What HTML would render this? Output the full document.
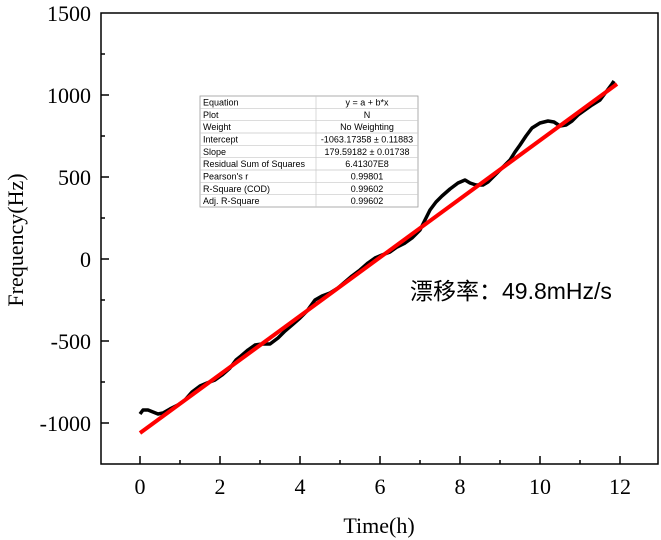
<!DOCTYPE html>
<html><head><meta charset="utf-8"><style>
html,body{margin:0;padding:0;background:#fff;}
svg{display:block;}
</style></head><body>
<svg width="661" height="540" viewBox="0 0 661 540" xmlns="http://www.w3.org/2000/svg">
<rect width="661" height="540" fill="#fff"/>
<rect x="101" y="13" width="557" height="451" fill="none" stroke="#000" stroke-width="1.5"/>
<g stroke="#000" stroke-width="1.5">
<line x1="101" y1="95" x2="109" y2="95"/><line x1="101" y1="177" x2="109" y2="177"/>
<line x1="101" y1="259" x2="109" y2="259"/><line x1="101" y1="341" x2="109" y2="341"/>
<line x1="101" y1="423" x2="109" y2="423"/>
<line x1="101" y1="54" x2="105" y2="54"/><line x1="101" y1="136" x2="105" y2="136"/>
<line x1="101" y1="218" x2="105" y2="218"/><line x1="101" y1="300" x2="105" y2="300"/>
<line x1="101" y1="382" x2="105" y2="382"/>
<line x1="140" y1="464" x2="140" y2="456"/><line x1="220" y1="464" x2="220" y2="456"/>
<line x1="300" y1="464" x2="300" y2="456"/><line x1="380" y1="464" x2="380" y2="456"/>
<line x1="460" y1="464" x2="460" y2="456"/><line x1="540" y1="464" x2="540" y2="456"/>
<line x1="620" y1="464" x2="620" y2="456"/>
<line x1="180" y1="464" x2="180" y2="460"/><line x1="260" y1="464" x2="260" y2="460"/>
<line x1="340" y1="464" x2="340" y2="460"/><line x1="420" y1="464" x2="420" y2="460"/>
<line x1="500" y1="464" x2="500" y2="460"/><line x1="580" y1="464" x2="580" y2="460"/>
</g>
<g font-family="Liberation Serif, serif" font-size="22" fill="#000" text-anchor="end">
<text x="91" y="21">1500</text><text x="91" y="103">1000</text>
<text x="91" y="185">500</text><text x="91" y="267">0</text>
<text x="91" y="349">-500</text><text x="91" y="431">-1000</text>
</g>
<g font-family="Liberation Serif, serif" font-size="22" fill="#000" text-anchor="middle">
<text x="140" y="494">0</text><text x="220" y="494">2</text><text x="300" y="494">4</text>
<text x="380" y="494">6</text><text x="460" y="494">8</text><text x="540" y="494">10</text>
<text x="620" y="494">12</text>
<text x="379" y="533">Time(h)</text>
<text transform="translate(23,240) rotate(-90)">Frequency(Hz)</text>
</g>
<polyline fill="none" stroke="#000" stroke-width="3.5" stroke-linejoin="round" points="140,414 143,410 148,410 153,412 158,414 163,413 170,409 178,405 185,400 192,392 200,386 207,383 215,380 222,375 230,368 236,360 241,356 248,350 255,345 262,344 270,344 278,338 285,331 292,325 300,318 307,311 315,300 322,296 330,293 338,288 345,282 352,276 360,270 368,263 375,258 382,255 390,252 397,247 405,243 412,238 420,230 425,220 430,210 436,202 442,196 450,189 458,183 465,180 470,183 476,185 483,185 488,182 495,175 502,168 510,160 515,152 520,145 526,136 532,128 540,123 548,121 554,122 560,126 566,125 572,121 578,115 585,110 592,105 600,100 606,92 612,84 614,81"/>
<line x1="140" y1="433" x2="617" y2="84" stroke="#ff0000" stroke-width="4"/>
<g font-family="Liberation Sans, sans-serif" font-size="9" fill="#000">
<rect x="200" y="96" width="218" height="111" fill="#fff" stroke="#999" stroke-width="0.8"/>
<g stroke="#c8c8c8" stroke-width="0.7">
<line x1="316" y1="96" x2="316" y2="207"/>
<line x1="200" y1="108.3" x2="418" y2="108.3"/><line x1="200" y1="120.7" x2="418" y2="120.7"/>
<line x1="200" y1="133" x2="418" y2="133"/><line x1="200" y1="145.3" x2="418" y2="145.3"/>
<line x1="200" y1="157.7" x2="418" y2="157.7"/><line x1="200" y1="170" x2="418" y2="170"/>
<line x1="200" y1="182.3" x2="418" y2="182.3"/><line x1="200" y1="194.7" x2="418" y2="194.7"/>
</g>
<text x="203" y="105.5">Equation</text><text x="203" y="117.8">Plot</text>
<text x="203" y="130.2">Weight</text><text x="203" y="142.5">Intercept</text>
<text x="203" y="154.8">Slope</text><text x="203" y="167.2">Residual Sum of Squares</text>
<text x="203" y="179.5">Pearson's r</text><text x="203" y="191.8">R-Square (COD)</text>
<text x="203" y="204.2">Adj. R-Square</text>
<g text-anchor="middle">
<text x="367" y="105.5">y = a + b*x</text><text x="367" y="117.8">N</text>
<text x="367" y="130.2">No Weighting</text><text x="367" y="142.5">-1063.17358 ± 0.11883</text>
<text x="367" y="154.8">179.59182 ± 0.01738</text><text x="367" y="167.2">6.41307E8</text>
<text x="367" y="179.5">0.99801</text><text x="367" y="191.8">0.99602</text>
<text x="367" y="204.2">0.99602</text>
</g>
</g>
<text x="410" y="299" font-family="Liberation Sans, 'Noto Sans CJK SC', sans-serif" font-size="23" fill="#000">漂移率：49.8mHz/s</text>
</svg>
</body></html>
